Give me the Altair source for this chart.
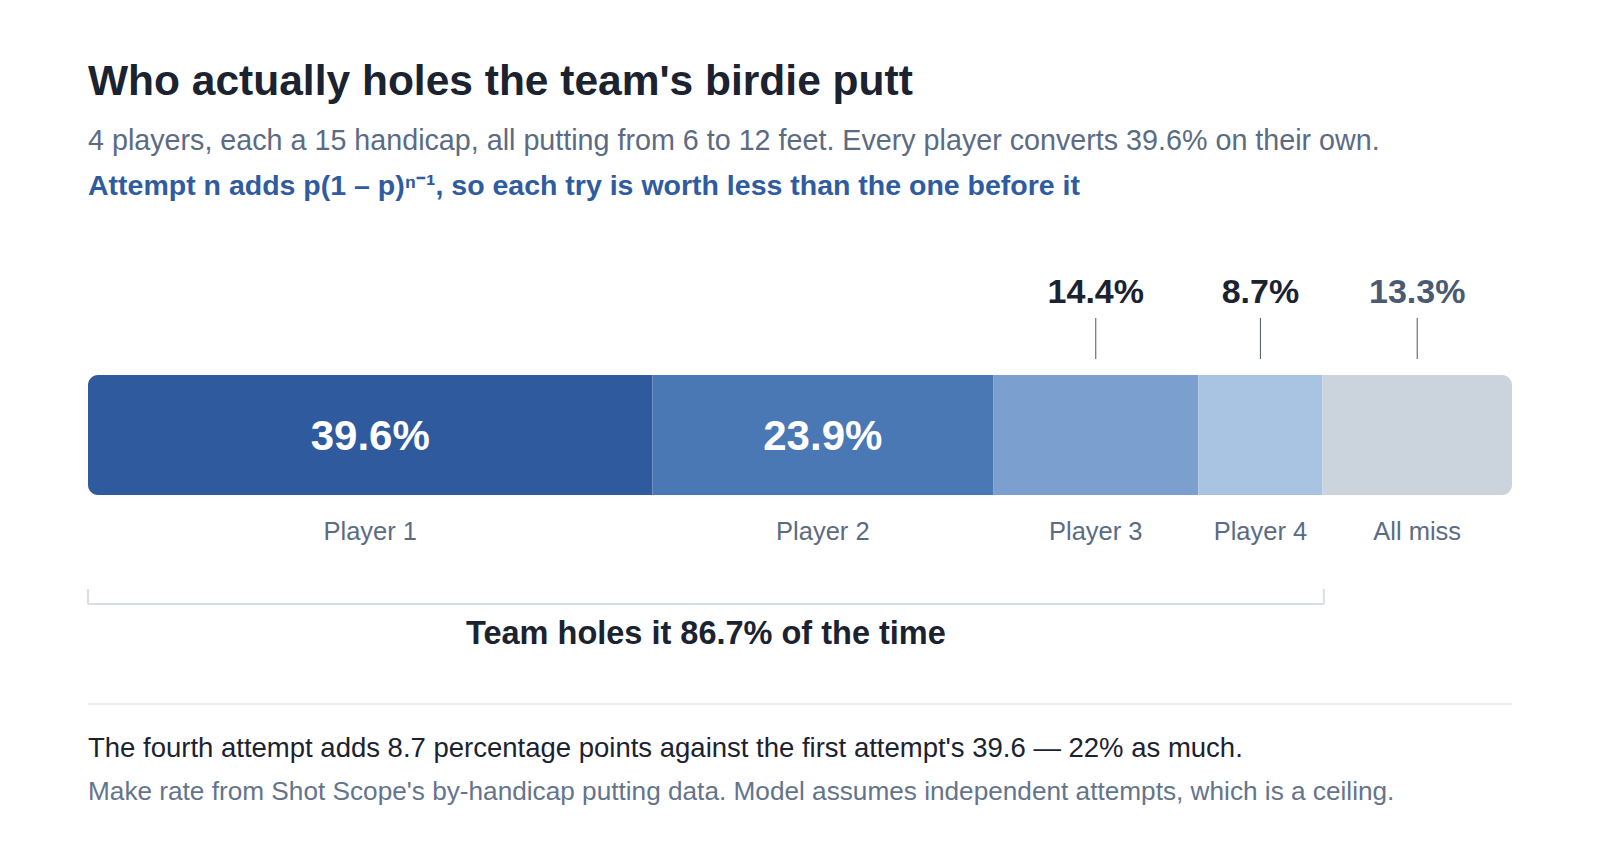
import altair as alt
import pandas as pd

# values
players = ["Player 1", "Player 2", "Player 3", "Player 4", "All miss"]
shares = [39.6, 23.9, 14.4, 8.7, 13.3]
label_inside = [True, True, False, False, False]
team_total = 86.7

title = "Who actually holes the team's birdie putt"
subtitle = ("4 players, each a 15 handicap, all putting from 6 to 12 feet. "
            "Every player converts 39.6% on their own.")
formula = "Attempt n adds p(1 \u2013 p)\u207f\u207b\u00b9, so each try is worth less than the one before it"
bracket_note = "Team holes it 86.7% of the time"
takeaway = ("The fourth attempt adds 8.7 percentage points against the first "
            "attempt's 39.6 \u2014 22% as much.")
source = ("Make rate from Shot Scope's by-handicap putting data. "
          "Model assumes independent attempts, which is a ceiling.")

FONT = "Liberation Sans"
DARK = "#1b2230"
SLATE = "#5b6b84"
BLUE = "#2f5ba0"
seg_colors = ["#2f5b9e", "#4a78b5", "#7b9fce", "#a9c3e2", "#cbd3dc"]

W = 1424

df = pd.DataFrame({"player": players, "share": shares, "inside": label_inside})
df["end"] = df["share"].cumsum()
df["start"] = df["end"] - df["share"]
df["mid"] = (df["start"] + df["end"]) / 2
df["label"] = df["share"].map(lambda v: f"{v:.1f}%")
df["order"] = range(len(df))

x_scale = alt.Scale(domain=[0, df["end"].iloc[-1]], nice=False, zero=True)
color = alt.Color("player:N", scale=alt.Scale(domain=players, range=seg_colors), legend=None)

base = alt.Chart(df)

# bar: rounded outer corners on first and last segment
bar_enc = dict(
    x=alt.X("start:Q", scale=x_scale, axis=None),
    x2="end:Q",
    y=alt.value(367),
    y2=alt.value(487),
    color=color,
)
bar_first = base.transform_filter("datum.order == 0").mark_rect(
    cornerRadiusTopLeft=10, cornerRadiusBottomLeft=10).encode(**bar_enc)
bar_mid = base.transform_filter("datum.order > 0 && datum.order < 4").mark_rect().encode(**bar_enc)
bar_last = base.transform_filter("datum.order == 4").mark_rect(
    cornerRadiusTopRight=10, cornerRadiusBottomRight=10).encode(**bar_enc)

inside_labels = base.transform_filter("datum.inside").mark_text(
    font=FONT, fontSize=42, fontWeight="bold", color="white", baseline="middle"
).encode(x=alt.X("mid:Q", scale=x_scale), y=alt.value(429), text="label:N")

outside = base.transform_filter("!datum.inside")
outside_labels = outside.mark_text(
    font=FONT, fontSize=34, fontWeight="bold", baseline="middle"
).encode(
    x=alt.X("mid:Q", scale=x_scale),
    y=alt.value(285),
    text="label:N",
    color=alt.condition("datum.player == 'All miss'", alt.value("#4a5a72"), alt.value(DARK)),
)
leader = outside.mark_rule(color="#4a5568", strokeWidth=1).encode(
    x=alt.X("mid:Q", scale=x_scale), y=alt.value(310), y2=alt.value(351)
)

cat_labels = base.mark_text(
    font=FONT, fontSize=25.5, color=SLATE, baseline="middle"
).encode(x=alt.X("mid:Q", scale=x_scale), y=alt.value(524), text="player:N")

# bracket under the made-putt segments
bracket_df = pd.DataFrame({"x": [0, team_total]})
bracket_sides = alt.Chart(bracket_df).mark_rule(color="#d8dde8", strokeWidth=2).encode(
    x=alt.X("x:Q", scale=x_scale), y=alt.value(581), y2=alt.value(596)
)
bracket_base = alt.Chart(pd.DataFrame({"a": [0], "b": [team_total]})).mark_rule(
    color="#d8dde8", strokeWidth=2
).encode(x=alt.X("a:Q", scale=x_scale), x2="b:Q", y=alt.value(596))
bracket_text = alt.Chart(pd.DataFrame({"t": [bracket_note], "x": [team_total / 2]})).mark_text(
    font=FONT, fontSize=32.5, fontWeight="bold", color=DARK, baseline="middle"
).encode(x=alt.X("x:Q", scale=x_scale), y=alt.value(626), text="t:N")


def note(text, y, size, col, weight="normal"):
    return alt.Chart(pd.DataFrame({"t": [text]})).mark_text(
        font=FONT, fontSize=size, fontWeight=weight, color=col, align="left", baseline="alphabetic"
    ).encode(x=alt.value(0), y=alt.value(y), text="t:N")


separator = alt.Chart(pd.DataFrame({"a": [0]})).mark_rule(color="#e5e8ee", strokeWidth=1.5).encode(
    x=alt.value(0), x2=alt.value(W), y=alt.value(696)
)

chart = alt.layer(
    note(title, 87, 42.5, DARK, "bold"),
    note(subtitle, 142, 28.7, SLATE),
    note(formula, 187, 28.5, BLUE, "bold"),
    bar_first, bar_mid, bar_last,
    inside_labels, outside_labels, leader, cat_labels,
    bracket_sides, bracket_base, bracket_text,
    separator,
    note(takeaway, 749, 27.5, DARK),
    note(source, 792, 26.2, "#64748b"),
).properties(
    width=W,
    height=830,
    autosize=alt.AutoSizeParams(type="none"),
    padding={"left": 80, "top": 0, "right": 0, "bottom": 0},
).configure_view(stroke=None)

chart.save("out.html", embed_options={"renderer": "svg", "actions": False})
